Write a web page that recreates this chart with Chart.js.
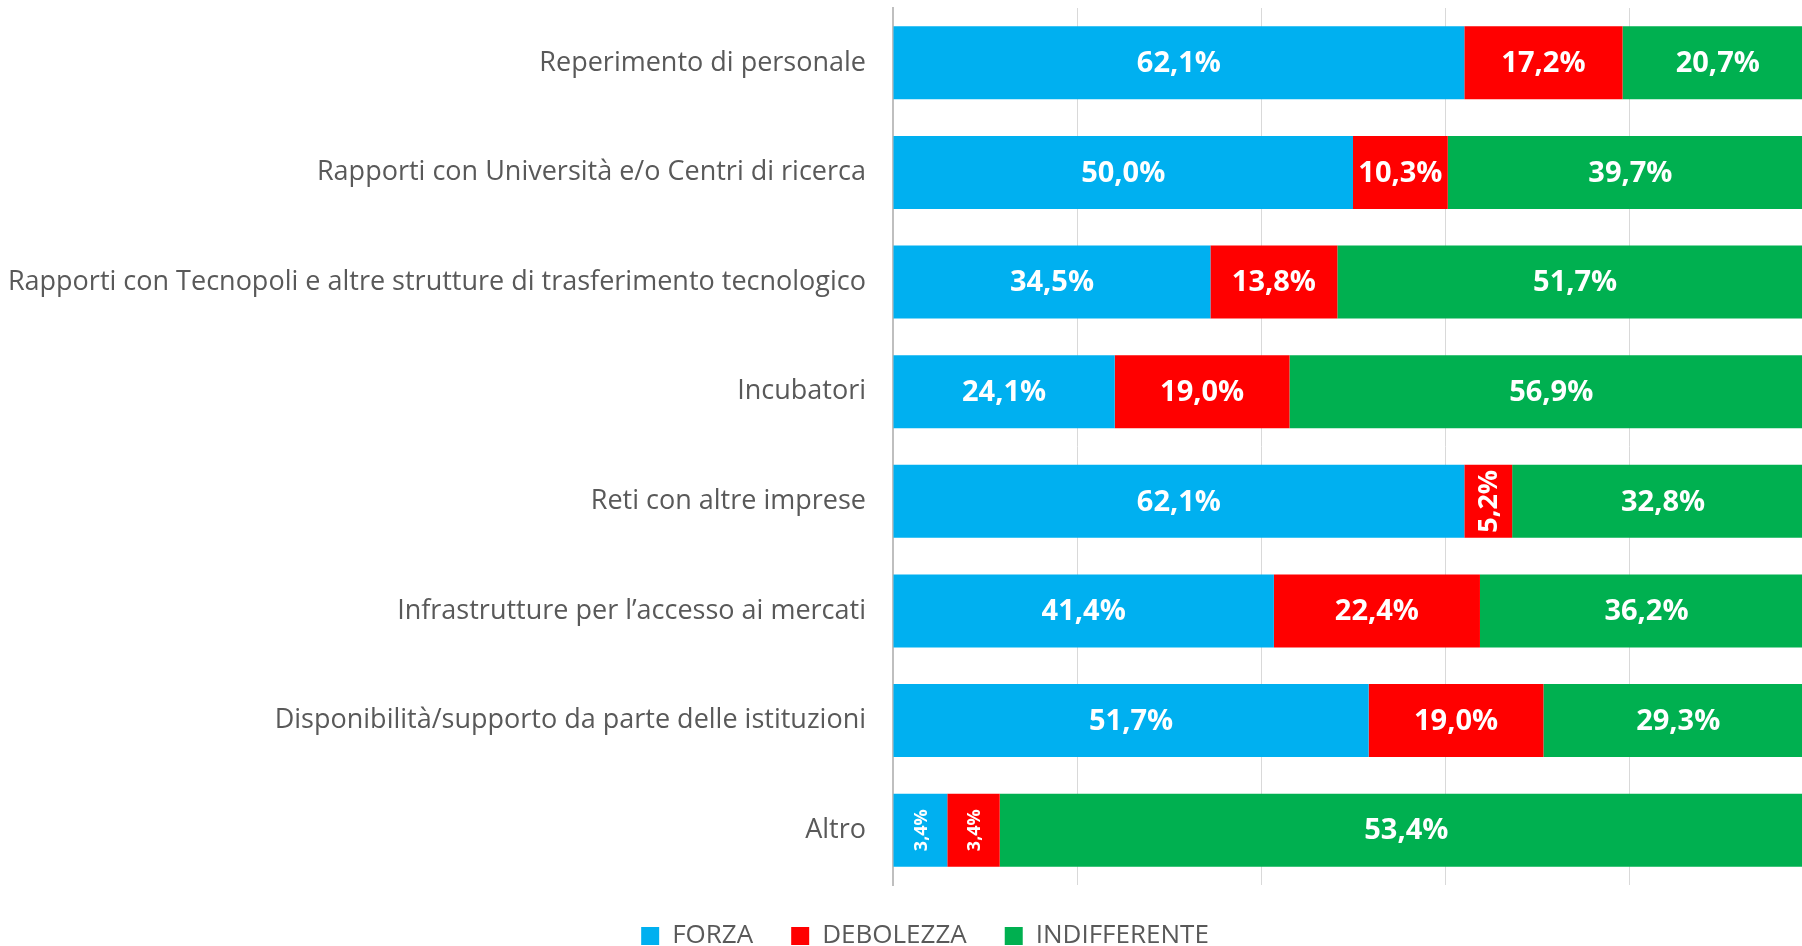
<!DOCTYPE html>
<html>
<head>
<meta charset="utf-8">
<script src="https://cdn.jsdelivr.net/npm/chart.js@4"></script>
<style>
    html, body { margin: 0; padding: 0; overflow: hidden; background: #fff; }
    #wrap { width: 1850px; height: 946px; position: relative; }
</style>
</head>
<body>
<div id="wrap"><canvas id="chartCanvas"></canvas></div>
<script>
const categories = [
    'Reperimento di personale',
    'Rapporti con Università e/o Centri di ricerca',
    'Rapporti con Tecnopoli e altre strutture di trasferimento tecnologico',
    'Incubatori',
    'Reti con altre imprese',
    'Infrastrutture per l\u2019accesso ai mercati',
    'Disponibilità/supporto da parte delle istituzioni',
    'Altro'
];

// bar lengths as drawn (%)
const forza = [62.1, 50.0, 34.5, 24.1, 62.1, 41.4, 51.7, 5.9];
const debolezza = [17.2, 10.3, 13.8, 19.0, 5.2, 22.4, 19.0, 5.7];
const indifferente = [20.7, 39.7, 51.7, 56.9, 32.8, 36.2, 29.3, 88.4];

// labels printed on the bars
const forzaLabels = ['62,1%', '50,0%', '34,5%', '24,1%', '62,1%', '41,4%', '51,7%', '3,4%'];
const debolezzaLabels = ['17,2%', '10,3%', '13,8%', '19,0%', '5,2%', '22,4%', '19,0%', '3,4%'];
const indifferenteLabels = ['20,7%', '39,7%', '51,7%', '56,9%', '32,8%', '36,2%', '29,3%', '53,4%'];

const xTicks = [0, 20, 40, 60, 80, 100];

const FONT = '"Open Sans", "DejaVu Sans", sans-serif';
const smallLabelRows = [7];

// white value labels centred in each segment, rotated when the segment is too narrow
const barLabels = {
    id: 'barLabels',
    afterDatasetsDraw(chart) {
        const ctx = chart.ctx;
        ctx.save();
        ctx.fillStyle = '#ffffff';
        ctx.textAlign = 'center';
        ctx.textBaseline = 'middle';
        chart.data.datasets.forEach((ds, di) => {
            const meta = chart.getDatasetMeta(di);
            meta.data.forEach((bar, i) => {
                const text = ds.shownLabels[i];
                const p = bar.getProps(['x', 'y', 'base'], true);
                const w = Math.abs(p.x - p.base);
                const cx = (p.x + p.base) / 2;
                ctx.font = '700 29px ' + FONT;
                if (ctx.measureText(text).width > w - 6) {
                    const size = smallLabelRows.includes(i) ? 18 : 27;
                    ctx.font = '700 ' + size + 'px ' + FONT;
                    ctx.save();
                    ctx.translate(cx, p.y);
                    ctx.rotate(-Math.PI / 2);
                    ctx.fillText(text, 0, 1);
                    ctx.restore();
                } else {
                    ctx.fillText(text, cx, p.y + 1);
                }
            });
        });
        ctx.restore();
    }
};

// centre the legend on the whole canvas, not on the padded box
const legendShift = {
    id: 'legendShift',
    afterLayout(chart) {
        if (chart.legend) chart.legend.left += 37;
    }
};

const ctx = document.getElementById('chartCanvas').getContext('2d');

new Chart(ctx, {
    type: 'bar',
    data: {
        labels: categories,
        datasets: [
            { label: 'FORZA', data: forza, shownLabels: forzaLabels, backgroundColor: '#00B0F0' },
            { label: 'DEBOLEZZA', data: debolezza, shownLabels: debolezzaLabels, backgroundColor: '#FF0000' },
            { label: 'INDIFFERENTE', data: indifferente, shownLabels: indifferenteLabels, backgroundColor: '#00B050' }
        ]
    },
    options: {
        indexAxis: 'y',
        responsive: true,
        maintainAspectRatio: false,
        animation: false,
        layout: { padding: { top: 8, right: 37, bottom: 0, left: 0 } },
        datasets: { bar: { categoryPercentage: 1, barPercentage: 0.665 } },
        scales: {
            x: {
                stacked: true,
                min: xTicks[0],
                max: xTicks[xTicks.length - 1],
                afterBuildTicks: (scale) => { scale.ticks = xTicks.map(v => ({ value: v })); },
                ticks: { display: false },
                grid: { color: '#d9d9d9', lineWidth: 1, drawTicks: false },
                border: { display: false }
            },
            y: {
                stacked: true,
                grid: { color: 'rgba(0,0,0,0)', drawTicks: true, tickLength: 27, tickColor: 'rgba(0,0,0,0)' },
                border: { color: '#bfbfbf', width: 2 },
                ticks: {
                    color: '#595959',
                    font: { family: FONT, size: 27, lineHeight: 0.5 },
                    padding: 0
                },
                afterFit: (scale) => { scale.width = 893; }
            }
        },
        plugins: {
            legend: {
                position: 'bottom',
                maxHeight: 61,
                labels: {
                    boxWidth: 18,
                    boxHeight: 18,
                    padding: 38,
                    color: '#595959',
                    font: { family: FONT, size: 26 }
                }
            },
            tooltip: { enabled: false }
        }
    },
    plugins: [barLabels, legendShift]
});
</script>
</body>
</html>
